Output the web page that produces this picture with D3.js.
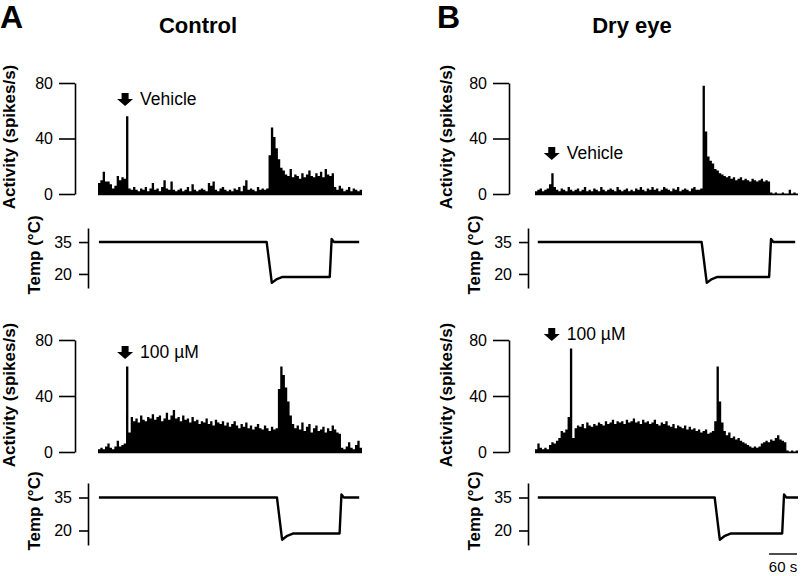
<!DOCTYPE html>
<html><head><meta charset="utf-8">
<script src="https://cdn.jsdelivr.net/npm/d3@7"></script>
<style>body{margin:0;background:#fff} text{font-family:"Liberation Sans",Arial,Helvetica,sans-serif;fill:#000}</style>
</head><body><svg id="c" width="801" height="576"></svg>
<script>
// ---- data ----
const binSeconds = 5;           // histogram bin width (s)
const totalSeconds = 565;
const panelTitles = ["Control", "Dry eye"];
const panelLetters = ["A", "B"];
const drugLabels = ["Vehicle", "100 µM"];
const actTicks = [0, 40, 80];
const tempTicks = [20, 35];

const controlVehicle = [8,10,16,9,9,7,4,6,13,10,12,11,
 56,
 4,3,5,3,2,4,3,5,2,4,
 8,3,4,2,5,10,4,3,9,3,
 2,3,4,2,3,5,2,7,3,2,
 3,4,3,2,8,6,9,3,2,4,
 5,3,2,3,2,4,3,5,2,6,
 10,3,4,3,2,5,3,4,3,4,
 28,48,41,33,25,19,17,
 14,13,18,12,14,13,11,15,12,14,17,13,12,15,13,16,12,18,14,13,15,
 5,3,6,4,2,3,5,2,4,3,2,3];

const dryVehicle = [2,3,4,2,3,4,7,15,5,3,
 2,4,3,2,5,3,2,3,4,2,
 3,5,2,3,2,4,3,2,5,3,
 2,3,4,3,2,5,3,2,3,4,
 2,3,2,4,3,5,3,2,4,3,
 5,3,4,2,3,5,4,3,2,4,
 3,5,2,3,4,3,2,4,5,3,
 3,4,
 78,45,27,24,22,18,17,15,
 14,13,12,13,11,12,10,11,12,10,11,10,9,11,10,9,10,11,9,10,9,
 1,0,1,0,0,1,0,0,3,0,1,0];

const controlDrug = [2,3,2,4,6,3,2,4,8,4,5,
 6,61,14,
 25,22,24,21,26,23,22,25,24,27,
 23,25,26,22,24,28,23,26,30,24,
 25,22,26,23,24,21,25,22,23,20,
 22,21,24,20,22,19,23,21,20,22,
 19,21,18,20,22,19,17,20,18,21,
 17,19,16,18,20,17,16,19,17,15,
 18,16,17,
 45,61,55,46,36,26,20,
 17,19,16,21,15,18,20,14,17,19,15,16,18,14,17,15,19,16,14,13,
 3,2,4,7,3,2,5,8,3];

const dryDrug = [2,6,3,2,3,2,
 5,7,6,8,10,
 15,14,16,25,
 74,10,
 17,19,18,20,17,21,19,18,20,19,
 21,20,19,22,20,21,23,20,22,21,
 22,20,23,21,22,24,21,22,20,23,
 21,22,20,21,23,20,19,21,20,22,
 19,18,20,17,19,18,17,19,16,18,
 16,17,15,16,14,15,16,13,14,15,
 22,61,36,21,
 15,12,14,10,11,9,10,8,7,6,
 5,4,3,4,3,4,
 6,7,8,7,9,8,10,12,9,8,7,
 1,0,1,0,1];

// temperature traces: shared temperature sequence, panel-specific times (s)
const tempValues = [35, 35, 15.8, 17.6, 18.6, 18.6, 36.4, 35, 35];
const tempTimesControlVehicle = [2, 361, 372, 383, 395, 496, 500, 505, 559];
const tempTimesDryVehicle     = [6, 358, 369, 380, 392, 503, 507, 512, 559];
const tempTimesControlDrug    = [2, 383, 394, 405, 417, 517, 521, 526, 559];
const tempTimesDryDrug        = [6, 386, 397, 408, 420, 531, 535, 540, 565];

// drug application (arrow) time (s) and arrow tip height (activity units), [row][col]
const arrowTimes = [[58, 36], [58, 36]];
const arrowTops  = [[72.8, 33.9], [75.7, 88.6]];
const scaleBarSeconds = 60;

// ---- layout ----
const svg = d3.select("#c");
const cols = [
  {actAxisX: 75, tempAxisX: 88, x0: 98, x1: 362, actLabelX: 15, tempLabelX: 40, titleX: 198, letterX: 0},
  {actAxisX: 509, tempAxisX: 528, x0: 535, x1: 798, actLabelX: 452, tempLabelX: 480, titleX: 632, letterX: 437}
];
const rows = [
  {actTop: 83, actBot: 194, tempTop: 228, tempBot: 288, actLabelY: 137, tempLabelY: 255},
  {actTop: 340, actBot: 452, tempTop: 483, tempBot: 545, actLabelY: 395, tempLabelY: 511}
];
const panels = [
  {row: 0, col: 0, act: controlVehicle, temp: tempTimesControlVehicle},
  {row: 0, col: 1, act: dryVehicle, temp: tempTimesDryVehicle},
  {row: 1, col: 0, act: controlDrug, temp: tempTimesControlDrug},
  {row: 1, col: 1, act: dryDrug, temp: tempTimesDryDrug}
];
const tempDomain = [13.4, 41.6];

// titles
cols.forEach((c, i) => {
  svg.append("text").attr("x", c.letterX).attr("y", 28)
    .attr("font-size", 32).attr("font-weight", "bold").text(panelLetters[i]);
  svg.append("text").attr("x", c.titleX).attr("y", 33).attr("text-anchor", "middle")
    .attr("font-size", 22).attr("font-weight", "bold").text(panelTitles[i]);
});

let lastX = null;
panels.forEach(p => {
  const c = cols[p.col], r = rows[p.row];
  const x = d3.scaleLinear().domain([0, totalSeconds]).range([c.x0, c.x1]);
  const y = d3.scaleLinear().domain([0, 80]).range([r.actBot, r.actTop]);
  const yt = d3.scaleLinear().domain(tempDomain).range([r.tempBot, r.tempTop]);
  if (p.col === 1 && p.row === 1) lastX = x;

  // histogram as solid step area
  const pts = p.act.map((v, i) => [i * binSeconds, v]);
  pts.push([p.act.length * binSeconds, p.act[p.act.length - 1]]);
  const area = d3.area().curve(d3.curveStepAfter)
    .x(d => x(d[0])).y0(y(0) + 1.2).y1(d => Math.min(y(d[1]), y(0) - 0.6));
  svg.append("path").datum(pts).attr("d", area).attr("fill", "#000");

  // activity axis
  const ga = svg.append("g").attr("transform", `translate(${c.actAxisX},0)`)
    .call(d3.axisLeft(y).tickValues(actTicks).tickSize(16).tickSizeOuter(0).tickPadding(6));
  ga.select(".domain").attr("stroke-width", 1.6);
  ga.selectAll(".tick line").attr("stroke-width", 1.6);
  ga.selectAll(".tick text").attr("font-size", 16).attr("font-family", '"Liberation Sans",Arial,sans-serif').attr("fill", "#000");

  // temperature axis
  const gt = svg.append("g").attr("transform", `translate(${c.tempAxisX},0)`)
    .call(d3.axisLeft(yt).tickValues(tempTicks).tickSize(9).tickSizeOuter(0).tickPadding(7));
  gt.select(".domain").attr("stroke-width", 1.6);
  gt.selectAll(".tick line").attr("stroke-width", 1.6);
  gt.selectAll(".tick text").attr("font-size", 16).attr("font-family", '"Liberation Sans",Arial,sans-serif').attr("fill", "#000");

  // temperature trace
  const tpts = p.temp.map((t, i) => [t, tempValues[i]]);
  svg.append("path").datum(tpts)
    .attr("d", d3.line().x(d => x(d[0])).y(d => yt(d[1])))
    .attr("fill", "none").attr("stroke", "#000").attr("stroke-width", 2.4)
    .attr("stroke-linejoin", "round");

  // axis labels
  svg.append("text").attr("transform", `translate(${c.actLabelX},${r.actLabelY}) rotate(-90)`)
    .attr("text-anchor", "middle").attr("font-size", 17).attr("font-weight", "bold")
    .text("Activity (spikes/s)");
  svg.append("text").attr("transform", `translate(${c.tempLabelX},${r.tempLabelY}) rotate(-90)`)
    .attr("text-anchor", "middle").attr("font-size", 17).attr("font-weight", "bold")
    .text("Temp (°C)");

  // arrow annotation
  const ax = x(arrowTimes[p.row][p.col]);
  const at = y(arrowTops[p.row][p.col]);
  svg.append("path")
    .attr("d", `M${ax-3.5},${at}L${ax+3.5},${at}L${ax+3.5},${at+6}L${ax+8},${at+6}L${ax},${at+13}L${ax-8},${at+6}L${ax-3.5},${at+6}Z`)
    .attr("fill", "#000");
  svg.append("text").attr("x", ax + 15).attr("y", at + 12)
    .attr("font-size", 17.5).text(drugLabels[p.row]);
});

// scale bar (60 s)
const sbEnd = lastX(totalSeconds) - 1;
const sbStart = sbEnd - (lastX(scaleBarSeconds) - lastX(0));
svg.append("line").attr("x1", sbStart).attr("x2", sbEnd).attr("y1", 554).attr("y2", 554)
  .attr("stroke", "#000").attr("stroke-width", 1.4);
svg.append("text").attr("x", (sbStart + sbEnd) / 2).attr("y", 572).attr("text-anchor", "middle")
  .attr("font-size", 15).text("60 s");
</script></body></html>
